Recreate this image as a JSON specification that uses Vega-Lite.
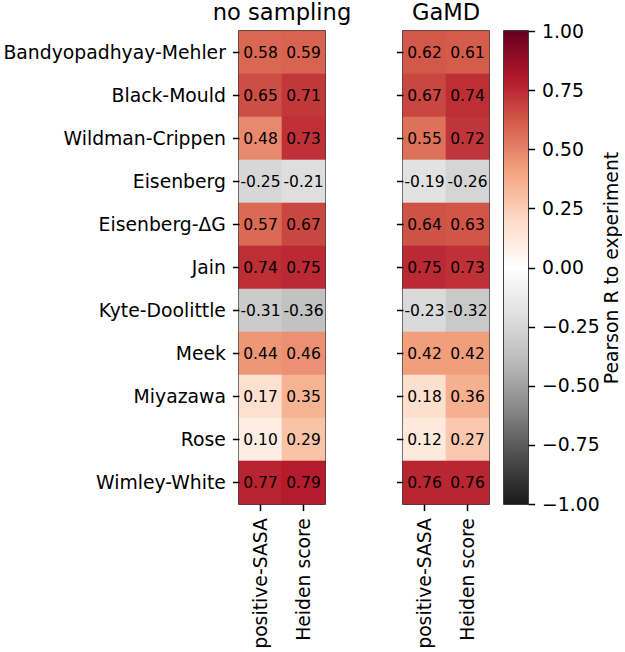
{
  "$schema": "https://vega.github.io/schema/vega-lite/v6.json",
  "background": "white",
  "padding": {"left": 2, "top": -8, "right": 0, "bottom": 0},
  "config": {
    "font": "DejaVu Sans",
    "view": {"stroke": "black", "strokeWidth": 1.5},
    "axis": {"domain": false, "tickColor": "black", "tickSize": 6.6, "tickWidth": 1.5, "labelColor": "black", "labelFontSize": 18.8, "labelFont": "DejaVu Sans", "labelLimit": 0, "titleFont": "DejaVu Sans", "grid": false},
    "title": {"fontSize": 22.6, "fontWeight": "normal", "font": "DejaVu Sans", "color": "black", "offset": 6}
  },
  "datasets": {
    "cells": [
      {"panel": "no sampling", "scale": "Bandyopadhyay-Mehler", "method": "positive-SASA", "r": 0.58},
      {"panel": "no sampling", "scale": "Bandyopadhyay-Mehler", "method": "Heiden score", "r": 0.59},
      {"panel": "no sampling", "scale": "Black-Mould", "method": "positive-SASA", "r": 0.65},
      {"panel": "no sampling", "scale": "Black-Mould", "method": "Heiden score", "r": 0.71},
      {"panel": "no sampling", "scale": "Wildman-Crippen", "method": "positive-SASA", "r": 0.48},
      {"panel": "no sampling", "scale": "Wildman-Crippen", "method": "Heiden score", "r": 0.73},
      {"panel": "no sampling", "scale": "Eisenberg", "method": "positive-SASA", "r": -0.25},
      {"panel": "no sampling", "scale": "Eisenberg", "method": "Heiden score", "r": -0.21},
      {"panel": "no sampling", "scale": "Eisenberg-ΔG", "method": "positive-SASA", "r": 0.57},
      {"panel": "no sampling", "scale": "Eisenberg-ΔG", "method": "Heiden score", "r": 0.67},
      {"panel": "no sampling", "scale": "Jain", "method": "positive-SASA", "r": 0.74},
      {"panel": "no sampling", "scale": "Jain", "method": "Heiden score", "r": 0.75},
      {"panel": "no sampling", "scale": "Kyte-Doolittle", "method": "positive-SASA", "r": -0.31},
      {"panel": "no sampling", "scale": "Kyte-Doolittle", "method": "Heiden score", "r": -0.36},
      {"panel": "no sampling", "scale": "Meek", "method": "positive-SASA", "r": 0.44},
      {"panel": "no sampling", "scale": "Meek", "method": "Heiden score", "r": 0.46},
      {"panel": "no sampling", "scale": "Miyazawa", "method": "positive-SASA", "r": 0.17},
      {"panel": "no sampling", "scale": "Miyazawa", "method": "Heiden score", "r": 0.35},
      {"panel": "no sampling", "scale": "Rose", "method": "positive-SASA", "r": 0.10},
      {"panel": "no sampling", "scale": "Rose", "method": "Heiden score", "r": 0.29},
      {"panel": "no sampling", "scale": "Wimley-White", "method": "positive-SASA", "r": 0.77},
      {"panel": "no sampling", "scale": "Wimley-White", "method": "Heiden score", "r": 0.79},
      {"panel": "GaMD", "scale": "Bandyopadhyay-Mehler", "method": "positive-SASA", "r": 0.62},
      {"panel": "GaMD", "scale": "Bandyopadhyay-Mehler", "method": "Heiden score", "r": 0.61},
      {"panel": "GaMD", "scale": "Black-Mould", "method": "positive-SASA", "r": 0.67},
      {"panel": "GaMD", "scale": "Black-Mould", "method": "Heiden score", "r": 0.74},
      {"panel": "GaMD", "scale": "Wildman-Crippen", "method": "positive-SASA", "r": 0.55},
      {"panel": "GaMD", "scale": "Wildman-Crippen", "method": "Heiden score", "r": 0.72},
      {"panel": "GaMD", "scale": "Eisenberg", "method": "positive-SASA", "r": -0.19},
      {"panel": "GaMD", "scale": "Eisenberg", "method": "Heiden score", "r": -0.26},
      {"panel": "GaMD", "scale": "Eisenberg-ΔG", "method": "positive-SASA", "r": 0.64},
      {"panel": "GaMD", "scale": "Eisenberg-ΔG", "method": "Heiden score", "r": 0.63},
      {"panel": "GaMD", "scale": "Jain", "method": "positive-SASA", "r": 0.75},
      {"panel": "GaMD", "scale": "Jain", "method": "Heiden score", "r": 0.73},
      {"panel": "GaMD", "scale": "Kyte-Doolittle", "method": "positive-SASA", "r": -0.23},
      {"panel": "GaMD", "scale": "Kyte-Doolittle", "method": "Heiden score", "r": -0.32},
      {"panel": "GaMD", "scale": "Meek", "method": "positive-SASA", "r": 0.42},
      {"panel": "GaMD", "scale": "Meek", "method": "Heiden score", "r": 0.42},
      {"panel": "GaMD", "scale": "Miyazawa", "method": "positive-SASA", "r": 0.18},
      {"panel": "GaMD", "scale": "Miyazawa", "method": "Heiden score", "r": 0.36},
      {"panel": "GaMD", "scale": "Rose", "method": "positive-SASA", "r": 0.12},
      {"panel": "GaMD", "scale": "Rose", "method": "Heiden score", "r": 0.27},
      {"panel": "GaMD", "scale": "Wimley-White", "method": "positive-SASA", "r": 0.76},
      {"panel": "GaMD", "scale": "Wimley-White", "method": "Heiden score", "r": 0.76}
    ],
    "bar": [{"lo": -1, "hi": 1}]
  },
  "spacing": 12,
  "hconcat": [
    {
      "spacing": 41,
      "hconcat": [
        {
          "title": "no sampling",
          "width": 86,
          "height": 473,
          "data": {"name": "cells"},
          "transform": [
            {"filter": "datum.panel === 'no sampling'"},
            {"calculate": "replace(format(datum.r, '.2f'), '\u2212', '-')", "as": "label"}
          ],
          "encoding": {
            "x": {"field": "method", "type": "nominal", "sort": null, "title": null,
                  "axis": {"labelAngle": -90, "labelPadding": 7}},
            "y": {"field": "scale", "type": "nominal", "sort": null, "title": null,
                  "axis": {"labelPadding": 7}}
          },
          "layer": [
            {"mark": {"type": "rect", "strokeWidth": 0.6},
             "encoding": {
               "color": {"field": "r", "type": "quantitative", "legend": null,
                 "scale": {"domain": [-1, -0.8, -0.6, -0.4, -0.2, 0, 0.2, 0.4, 0.6, 0.8, 1],
                           "range": ["#1a1a1a", "#4d4d4d", "#878787", "#bababa", "#e0e0e0", "#ffffff", "#fddbc7", "#f4a582", "#d6604d", "#b2182b", "#67001f"],
                           "interpolate": "rgb"}},
               "stroke": {"field": "r", "type": "quantitative", "legend": null,
                 "scale": {"domain": [-1, -0.8, -0.6, -0.4, -0.2, 0, 0.2, 0.4, 0.6, 0.8, 1],
                           "range": ["#1a1a1a", "#4d4d4d", "#878787", "#bababa", "#e0e0e0", "#ffffff", "#fddbc7", "#f4a582", "#d6604d", "#b2182b", "#67001f"],
                           "interpolate": "rgb"}}}},
            {"mark": {"type": "text", "fontSize": 15.5, "color": "black", "font": "DejaVu Sans"},
             "encoding": {"text": {"field": "label", "type": "nominal"}}}
          ]
        },
        {
          "title": "GaMD",
          "width": 86,
          "height": 473,
          "data": {"name": "cells"},
          "transform": [
            {"filter": "datum.panel === 'GaMD'"},
            {"calculate": "replace(format(datum.r, '.2f'), '\u2212', '-')", "as": "label"}
          ],
          "encoding": {
            "x": {"field": "method", "type": "nominal", "sort": null, "title": null,
                  "axis": {"labelAngle": -90, "labelPadding": 7}},
            "y": {"field": "scale", "type": "nominal", "sort": null, "title": null,
                  "axis": {"labels": false}}
          },
          "layer": [
            {"mark": {"type": "rect", "strokeWidth": 0.6},
             "encoding": {
               "color": {"field": "r", "type": "quantitative", "legend": null,
                 "scale": {"domain": [-1, -0.8, -0.6, -0.4, -0.2, 0, 0.2, 0.4, 0.6, 0.8, 1],
                           "range": ["#1a1a1a", "#4d4d4d", "#878787", "#bababa", "#e0e0e0", "#ffffff", "#fddbc7", "#f4a582", "#d6604d", "#b2182b", "#67001f"],
                           "interpolate": "rgb"}},
               "stroke": {"field": "r", "type": "quantitative", "legend": null,
                 "scale": {"domain": [-1, -0.8, -0.6, -0.4, -0.2, 0, 0.2, 0.4, 0.6, 0.8, 1],
                           "range": ["#1a1a1a", "#4d4d4d", "#878787", "#bababa", "#e0e0e0", "#ffffff", "#fddbc7", "#f4a582", "#d6604d", "#b2182b", "#67001f"],
                           "interpolate": "rgb"}}}},
            {"mark": {"type": "text", "fontSize": 15.5, "color": "black", "font": "DejaVu Sans"},
             "encoding": {"text": {"field": "label", "type": "nominal"}}}
          ]
        }
      ]
    },
    {
      "title": " ",
      "width": 24,
      "height": 473,
      "data": {"name": "bar"},
      "mark": {"type": "rect",
        "color": {"gradient": "linear", "x1": 0, "y1": 1, "x2": 0, "y2": 0,
          "stops": [
            {"offset": 0, "color": "#1a1a1a"},
            {"offset": 0.1, "color": "#4d4d4d"},
            {"offset": 0.2, "color": "#878787"},
            {"offset": 0.3, "color": "#bababa"},
            {"offset": 0.4, "color": "#e0e0e0"},
            {"offset": 0.5, "color": "#ffffff"},
            {"offset": 0.6, "color": "#fddbc7"},
            {"offset": 0.7, "color": "#f4a582"},
            {"offset": 0.8, "color": "#d6604d"},
            {"offset": 0.9, "color": "#b2182b"},
            {"offset": 1, "color": "#67001f"}
          ]}},
      "encoding": {
        "x": {"datum": 0, "type": "quantitative", "scale": {"domain": [0, 1], "nice": false}, "axis": null},
        "x2": {"datum": 1},
        "y": {"field": "lo", "type": "quantitative", "scale": {"domain": [-1, 1], "nice": false, "zero": false},
              "axis": {"orient": "right", "values": [-1, -0.75, -0.5, -0.25, 0, 0.25, 0.5, 0.75, 1], "format": ".2f",
                       "labelPadding": 7, "title": "Pearson R to experiment", "titleFontSize": 18.8, "titleFontWeight": "normal",
                       "titleColor": "black", "titleAngle": -90, "titleBaseline": "top", "titlePadding": 3}},
        "y2": {"field": "hi"}
      }
    }
  ]
}
